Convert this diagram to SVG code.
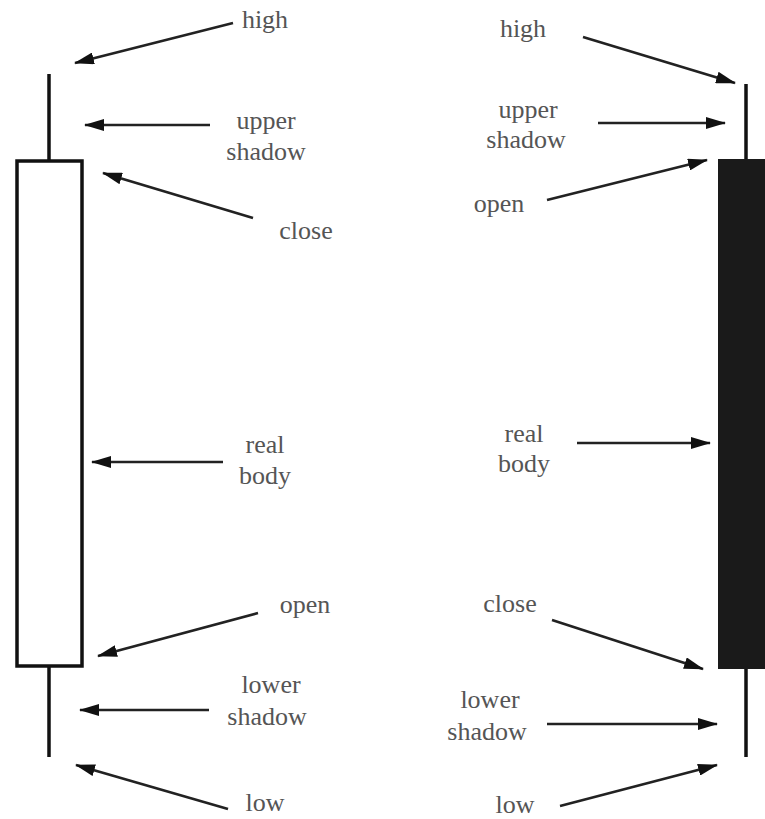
<svg xmlns="http://www.w3.org/2000/svg" width="765" height="819" viewBox="0 0 765 819">
<style>
.lbl{font-family:"Liberation Serif","DejaVu Serif",serif;font-size:26px;fill:#555;text-anchor:middle}
.arr{stroke:#222;stroke-width:2.6;fill:none;marker-end:url(#ah)}
.wick{stroke:#111;stroke-width:3.5;fill:none}
</style>
<defs>
<marker id="ah" markerUnits="userSpaceOnUse" viewBox="0 0 20 12" refX="19" refY="6" markerWidth="20" markerHeight="12" orient="auto">
<path d="M0,0 L20,6 L0,12 z" fill="#111"/>
</marker>
</defs>
<rect width="765" height="819" fill="#fff"/>
<g id="white-candle">
<line class="wick" x1="49" y1="74" x2="49" y2="161"/>
<line class="wick" x1="49" y1="666" x2="49" y2="757"/>
<rect x="17" y="161" width="65" height="505" fill="#fff" stroke="#111" stroke-width="3.5"/>
</g>
<g id="black-candle">
<line class="wick" x1="746" y1="84" x2="746" y2="160"/>
<line class="wick" x1="746" y1="668" x2="746" y2="757"/>
<rect x="718" y="159" width="50" height="510" fill="#1a1a1a"/>
</g>
<g id="labels-left">
<text class="lbl" x="265" y="28">high</text>
<text class="lbl" x="266" y="129">upper</text>
<text class="lbl" x="266" y="160">shadow</text>
<text class="lbl" x="306" y="239">close</text>
<text class="lbl" x="265" y="453">real</text>
<text class="lbl" x="265" y="484">body</text>
<text class="lbl" x="305" y="613">open</text>
<text class="lbl" x="271" y="693">lower</text>
<text class="lbl" x="267" y="725">shadow</text>
<text class="lbl" x="265" y="811">low</text>
</g>
<g id="labels-right">
<text class="lbl" x="523" y="37">high</text>
<text class="lbl" x="528" y="118">upper</text>
<text class="lbl" x="526" y="148">shadow</text>
<text class="lbl" x="499" y="212">open</text>
<text class="lbl" x="524" y="442">real</text>
<text class="lbl" x="524" y="472">body</text>
<text class="lbl" x="510" y="612">close</text>
<text class="lbl" x="490" y="708">lower</text>
<text class="lbl" x="487" y="740">shadow</text>
<text class="lbl" x="515" y="813">low</text>
</g>
<g id="connectors">
<line class="arr" x1="233" y1="23" x2="75" y2="63"/>
<line class="arr" x1="210" y1="125" x2="85" y2="125"/>
<line class="arr" x1="253" y1="218" x2="103" y2="173"/>
<line class="arr" x1="223" y1="462" x2="92" y2="462"/>
<line class="arr" x1="258" y1="613" x2="98" y2="656"/>
<line class="arr" x1="209" y1="710" x2="80" y2="710"/>
<line class="arr" x1="228" y1="809" x2="76" y2="765"/>
<line class="arr" x1="583" y1="37" x2="735" y2="83"/>
<line class="arr" x1="598" y1="123" x2="725" y2="123"/>
<line class="arr" x1="547" y1="200" x2="707" y2="160"/>
<line class="arr" x1="577" y1="443" x2="710" y2="443"/>
<line class="arr" x1="552" y1="620" x2="703" y2="669"/>
<line class="arr" x1="547" y1="724" x2="717" y2="724"/>
<line class="arr" x1="560" y1="806" x2="717" y2="765"/>
</g>
</svg>
